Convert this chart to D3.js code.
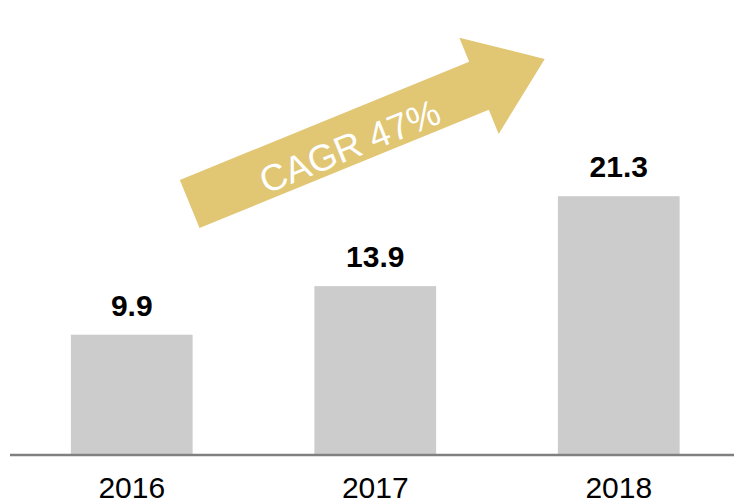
<!DOCTYPE html>
<html>
<head>
<meta charset="utf-8">
<script src="https://cdn.jsdelivr.net/npm/d3@7"></script>
<style>
  html, body { margin: 0; padding: 0; background: #fff; }
  svg { display: block; font-family: Arial, "Liberation Sans", sans-serif; }
</style>
</head>
<body>
<svg id="chart" width="734" height="500"></svg>
<script>
const years = ['2016', '2017', '2018'];
const values = [9.9, 13.9, 21.3];
const cagrLabel = 'CAGR 47%';
// arrow ends in (bar index, value) units
const arrowFrom = [0.238, 20.66];
const arrowTo = [1.696, 32.6];

const width = 734;
const height = 500;
const baseY = 455;

const svg = d3.select('#chart');

const x = d3.scaleBand()
  .domain(years)
  .range([10, 740.5])
  .paddingInner(0.5)
  .paddingOuter(0.25);

const y = d3.scaleLinear()
  .domain([0, 37.45])
  .range([baseY, 0]);

// band index -> bar centre, for the arrow
const xi = d3.scaleLinear()
  .domain([0, years.length - 1])
  .range([x(years[0]) + x.bandwidth() / 2, x(years[years.length - 1]) + x.bandwidth() / 2]);

const data = years.map((yr, i) => ({ year: yr, value: values[i] }));

// bars
svg.selectAll('rect.bar')
  .data(data)
  .enter()
  .append('rect')
  .attr('class', 'bar')
  .attr('x', d => x(d.year))
  .attr('y', d => y(d.value))
  .attr('width', x.bandwidth())
  .attr('height', d => y(0) - y(d.value))
  .style('fill', '#cccccc');

// value labels
svg.selectAll('text.val')
  .data(data)
  .enter()
  .append('text')
  .attr('class', 'val')
  .attr('x', d => x(d.year) + x.bandwidth() / 2)
  .attr('y', d => y(d.value) - 19)
  .attr('text-anchor', 'middle')
  .style('font-size', '30px')
  .style('font-weight', 'bold')
  .style('fill', '#000')
  .text(d => d.value.toFixed(1));

// x axis
const xAxis = svg.append('g')
  .attr('transform', `translate(0, ${baseY})`)
  .call(d3.axisBottom(x).tickSize(0).tickPadding(22));
xAxis.select('.domain')
  .attr('d', `M10,0H${width}`)
  .style('stroke', '#808080')
  .style('stroke-width', 2.5);
xAxis.selectAll('.tick text')
  .attr('dy', '0.71em')
  .style('font-size', '30px')
  .style('font-family', 'Arial, "Liberation Sans", sans-serif')
  .style('fill', '#000');

// CAGR arrow
const p0 = [xi(arrowFrom[0]), y(arrowFrom[1])];
const p1 = [xi(arrowTo[0]), y(arrowTo[1])];
const len = Math.hypot(p1[0] - p0[0], p1[1] - p0[1]);
const ang = Math.atan2(p1[1] - p0[1], p1[0] - p0[0]) * 180 / Math.PI;
const shaftW = 52, headW = 104, headL = 71;

const arrow = svg.append('g')
  .attr('transform', `translate(${p0[0]}, ${p0[1]}) rotate(${ang})`);

const pts = [
  [0, -shaftW / 2],
  [len - headL, -shaftW / 2],
  [len - headL, -headW / 2],
  [len, 0],
  [len - headL, headW / 2],
  [len - headL, shaftW / 2],
  [0, shaftW / 2]
];
arrow.append('path')
  .attr('d', d3.line()(pts) + 'Z')
  .style('fill', '#e1c674');

arrow.append('text')
  .attr('x', 170)
  .attr('y', 20)
  .attr('text-anchor', 'middle')
  .style('font-size', '37px')
  .style('fill', '#ffffff')
  .text(cagrLabel);
</script>
</body>
</html>
